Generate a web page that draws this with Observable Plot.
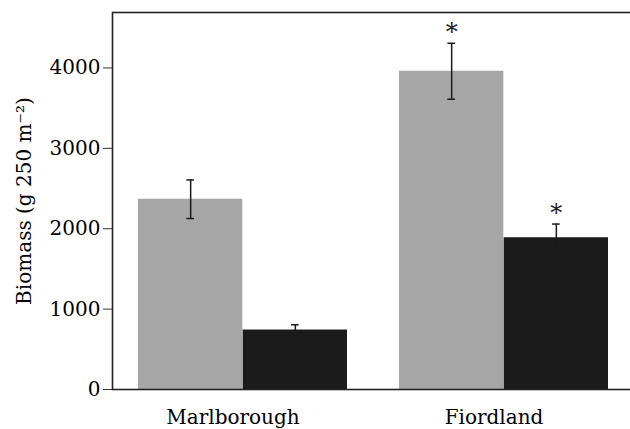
<!DOCTYPE html>
<html><head><meta charset="utf-8">
<script src="https://cdn.jsdelivr.net/npm/d3@7"></script>
<script src="https://cdn.jsdelivr.net/npm/@observablehq/plot@0.6"></script>
<style>html,body{margin:0;padding:0;background:#fff} svg{display:block}</style>
</head><body><div id="chart"></div>
<script>
const sites = ["Marlborough", "Fiordland"];
const treatments = ["Grey", "Black"];
const meanGrey = [2367, 3959];
const meanBlack = [740, 1888];
const errGrey = [240, 348];
const errBlack = [65, 170];
const sigGrey = ["", "*"];
const sigBlack = ["", "*"];
const yTicks = [0, 1000, 2000, 3000, 4000];
const yDomain = [0, 4690];
const yLabel = "Biomass (g 250 m⁻²)";

const rows = [];
sites.forEach((s, i) => {
  rows.push({site: s, treatment: treatments[0], mean: meanGrey[i], err: errGrey[i], sig: sigGrey[i]});
  rows.push({site: s, treatment: treatments[1], mean: meanBlack[i], err: errBlack[i], sig: sigBlack[i]});
});
const grey = rows.filter(d => d.treatment === treatments[0]);
const black = rows.filter(d => d.treatment === treatments[1]);

const W = 630, H = 429, mL = 112, mR = -2, mT = 12, mB = 40;
const xOpts = {domain: sites, paddingInner: 0.2, paddingOuter: 0.0935, align: 0.513};
const bw = d3.scaleBand().domain(sites).range([mL, W - mR])
  .paddingInner(xOpts.paddingInner).paddingOuter(xOpts.paddingOuter).align(xOpts.align).bandwidth();
const half = bw / 2;
const q = bw / 4;
const hi = d => d.mean + d.err;
const lo = d => d.mean - d.err;
const ink = "#1a1a1a";

const errMarks = (data, dx) => [
  Plot.ruleX(data, {x: "site", y1: lo, y2: hi, dx, stroke: ink, strokeWidth: 1.5}),
  Plot.tickY(data, {x: "site", y: hi, dx, insetLeft: half - 4, insetRight: half - 4, stroke: ink, strokeWidth: 1.5}),
  Plot.tickY(data, {x: "site", y: lo, dx, insetLeft: half - 4, insetRight: half - 4, stroke: ink, strokeWidth: 1.5}),
  Plot.text(data, {x: "site", y: hi, dx, dy: -3, text: "sig", lineAnchor: "bottom", fontSize: 24, fill: ink})
];

const chart = Plot.plot({
  width: W, height: H,
  marginLeft: mL, marginRight: mR, marginTop: mT, marginBottom: mB,
  style: {fontFamily: "DejaVu Serif", fontSize: "20px", color: "#000", background: "#fff"},
  x: xOpts,
  y: {domain: yDomain},
  marks: [
    Plot.barY(grey, {x: "site", y: "mean", fill: "#a6a6a6", insetRight: half}),
    Plot.barY(black, {x: "site", y: "mean", fill: "#1b1b1b", insetLeft: half}),
    ...errMarks(grey, -q),
    ...errMarks(black, q),
    Plot.frame({stroke: "#222", strokeWidth: 1.6}),
    Plot.axisY({ticks: yTicks, tickSize: 9, tickPadding: 3, tickFormat: d => String(d),
      stroke: "#333", label: yLabel, labelAnchor: "center", labelArrow: false, labelOffset: 96}),
    Plot.axisX({tickSize: 0, tickPadding: 20, dx: -10, label: null})
  ]
});
document.getElementById("chart").appendChild(chart);
</script>
</body></html>
